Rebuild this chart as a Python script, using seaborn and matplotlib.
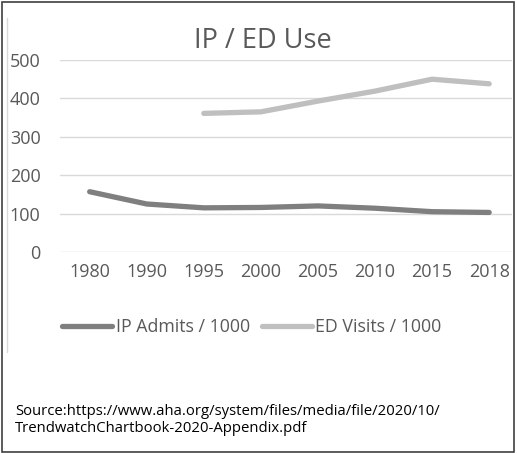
import matplotlib

matplotlib.use("Agg")

import matplotlib.pyplot as plt
import seaborn as sns
import pandas as pd
import numpy as np
from matplotlib.patches import Rectangle
from matplotlib.lines import Line2D

years = ["1980", "1990", "1995", "2000", "2005", "2010", "2015", "2018"]
ip_admits = [157, 125, 115, 116, 120, 114, 105, 103]
ed_visits = [np.nan, np.nan, 361, 365, 393, 419, 450, 438]
series_names = ["IP Admits / 1000", "ED Visits / 1000"]
series_colors = ["#7f7f7f", "#bfbfbf"]
title = "IP / ED Use"
source = "Source:https://www.aha.org/system/files/media/file/2020/10/\nTrendwatchChartbook-2020-Appendix.pdf"

df = pd.DataFrame({
    "year": years * 2,
    "value": ip_admits + ed_visits,
    "series": [series_names[0]] * len(years) + [series_names[1]] * len(years),
})

sns.set_style("white")
plt.rcParams["font.family"] = ["Open Sans", "DejaVu Sans"]

W, H = 517, 453
fig = plt.figure(figsize=(W / 100, H / 100), dpi=100)
ax = fig.add_axes([60 / W, 1 - 252 / H, 452 / W, 192 / H])

sns.lineplot(
    data=df, x="year", y="value", hue="series",
    palette=dict(zip(series_names, series_colors)),
    linewidth=3.8, sort=False, legend=False, ax=ax,
)
for ln in ax.lines:
    ln.set_solid_capstyle("round")

ax.set_ylim(0, 500)
ax.set_yticks([0, 100, 200, 300, 400, 500])
ax.set_xlim(-0.52, 7.4)
ax.grid(axis="y", color="#d9d9d9", linewidth=1)
ax.set_axisbelow(True)
for s in ax.spines.values():
    s.set_visible(False)
ax.set_xlabel("")
ax.set_ylabel("")
ax.tick_params(axis="y", length=0, pad=14, labelsize=13, labelcolor="#595959")
ax.tick_params(axis="x", length=0, pad=8, labelsize=13, labelcolor="#595959")

fig.text(263 / W, 1 - 41 / H, title, ha="center", va="center",
         fontsize=19.5, color="#595959")

handles = [Line2D([], [], color=c, linewidth=3.8, solid_capstyle="round")
           for c in series_colors]
fig.legend(handles, series_names, loc="center", bbox_to_anchor=(252 / W, 1 - 327 / H),
           ncol=2, frameon=False, fontsize=12.8, labelcolor="#595959",
           handlelength=2.8, handletextpad=0.2, columnspacing=0.7)

fig.text(15 / W, 1 - 420 / H, source, ha="left", va="center",
         fontsize=10.7, color="black", linespacing=1.1)

# outer frame and light left edge of the chart area
fig.add_artist(Line2D([7 / W, 7 / W], [1 - 18 / H, 1 - 352 / H],
                      transform=fig.transFigure, color="#d9d9d9", linewidth=1))
fig.add_artist(Rectangle((1.5 / W, 1.5 / H), (W - 4.5) / W, (H - 3.5) / H,
                         transform=fig.transFigure, fill=False,
                         edgecolor="#404040", linewidth=1.2))

fig.savefig("out.png", dpi=100)
